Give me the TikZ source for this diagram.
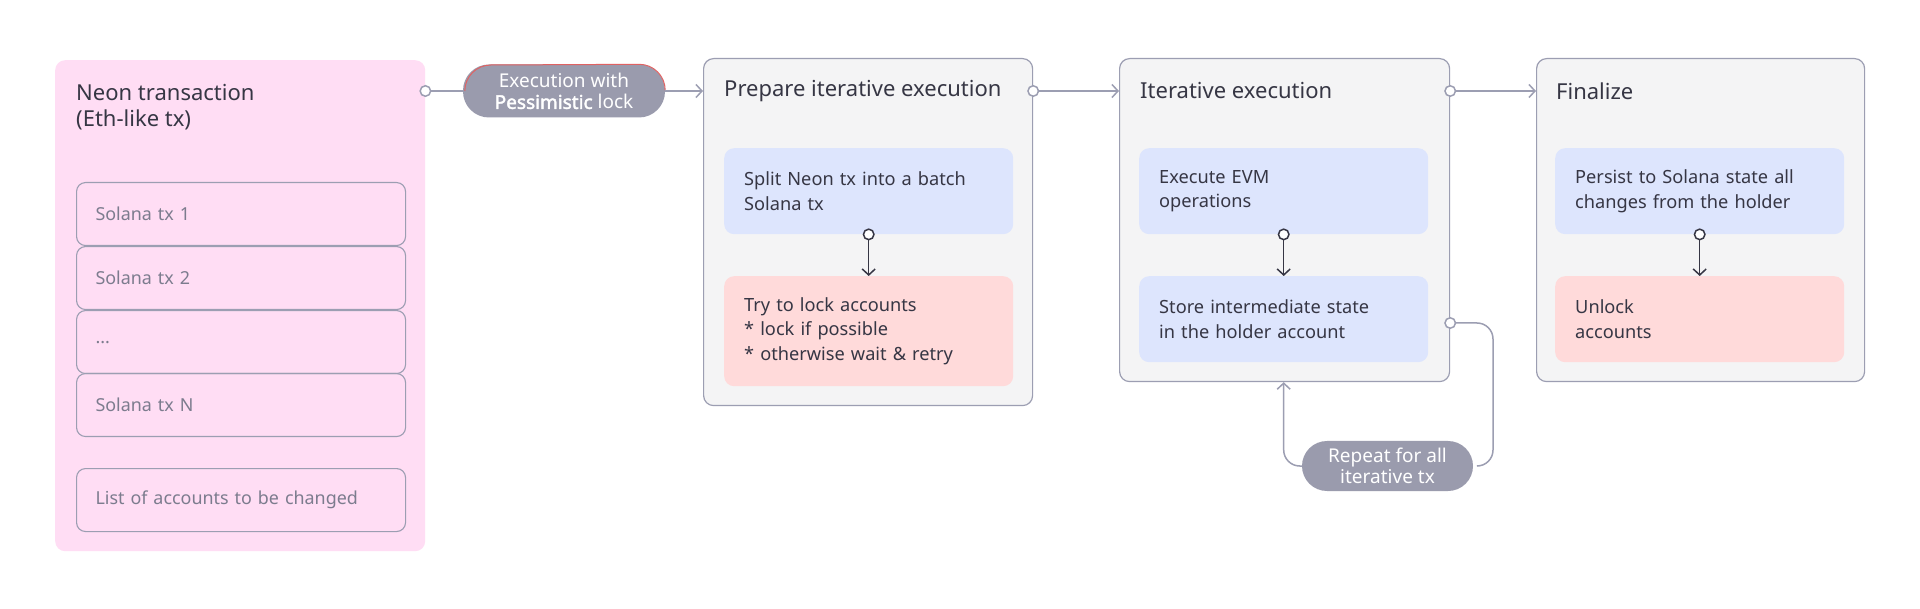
\documentclass[tikz,border=0pt]{standalone}
\usepackage{fontspec}
\setmainfont{Noto Sans}
\newfontfamily\pillbold{Noto Sans}[FakeBold=2.2]
\usetikzlibrary{arrows.meta,calc}
\definecolor{cpink}{HTML}{FFDDF4}
\definecolor{cgray}{HTML}{F4F4F5}
\definecolor{cborder}{HTML}{9C9EB2}
\definecolor{cblue}{HTML}{DDE5FD}
\definecolor{cred}{HTML}{FFDADA}
\definecolor{cpill}{HTML}{9A9BAD}
\definecolor{ctext}{HTML}{363644}
\definecolor{csub}{HTML}{7C7C8E}
\definecolor{credline}{HTML}{E06262}
\tikzset{
  cdot/.tip={Circle[fill=white, length=12pt, width=12pt, line width=1.5pt]},
  ctip/.tip={Straight Barb[length=6pt, width=13pt, line width=1.5pt]},
  container/.style={draw=cborder, fill=cgray, line width=1.2pt, rounded corners=10pt,
    anchor=north west, inner sep=0pt},
  pinkbox/.style={fill=cpink, rounded corners=10pt, anchor=north west, inner sep=0pt},
  subbox/.style={draw=cborder, line width=1.1pt, rounded corners=9pt, anchor=north west,
    minimum width=329pt, minimum height=63pt, inner xsep=19pt, text width=291pt, align=left,
    text=csub, font=\fontsize{17.9}{22}\selectfont},
  title/.style={anchor=west, inner sep=0pt, text=ctext, font=\fontsize{22}{26}\selectfont, align=left},
  inbox/.style={rounded corners=10pt, anchor=north west, minimum width=289pt, inner xsep=20pt,
    text width=249pt, align=left, text=ctext, font=\fontsize{18.2}{24.5}\selectfont},
  pill/.style={fill=cpill, rounded corners=25pt, text=white, align=center,
    font=\fontsize{19}{21.5}\selectfont, inner sep=0pt},
  conn/.style={draw=cborder, line width=1.5pt},
  inconn/.style={draw=ctext, line width=1.5pt},
}
\begin{document}
\begin{tikzpicture}[x=1pt,y=-1pt]
\useasboundingbox[fill=white] (0,0) rectangle (1920,609);

% Left pink panel
\node[pinkbox, minimum width=370pt, minimum height=491pt] (neon) at (55,60) {};
\node[title] (neont) at (76,107) {Neon transaction\\(Eth-like tx)};
\node[subbox] (s1) at (76,182) {Solana tx 1};
\node[subbox] (s2) at (76,246) {Solana tx 2};
\node[subbox] (s3) at (76,310) {...};
\node[subbox] (s4) at (76,373) {Solana tx N};
\node[subbox] (s5) at (76,468) {List of accounts to be changed};

% Containers
\node[container, minimum width=329pt, minimum height=347pt] (b2) at (703,58) {};
\node[title] (b2t) at (724,91) {Prepare iterative execution};
\node[inbox, fill=cblue, minimum height=86pt] (b2a) at (724,148) {Split Neon tx into a batch\\Solana tx};
\node[inbox, fill=cred, minimum height=110pt] (b2b) at (724,276) {Try to lock accounts\\{}* lock if possible\\{}* otherwise wait \& retry};

\node[container, minimum width=330pt, minimum height=323pt] (b3) at (1119,58) {};
\node[title] (b3t) at (1140,91) {Iterative execution};
\node[inbox, fill=cblue, minimum height=86pt] (b3a) at (1139,148) {Execute EVM\\operations};
\node[inbox, fill=cblue, minimum height=86pt] (b3b) at (1139,276) {Store intermediate state\\in the holder account};

\node[container, minimum width=328pt, minimum height=323pt] (b4) at (1536,58) {};
\node[title] (b4t) at (1556,91) {Finalize};
\node[inbox, fill=cblue, minimum height=86pt] (b4a) at (1555,148) {Persist to Solana state all\\changes from the holder};
\node[inbox, fill=cred, minimum height=86pt] (b4b) at (1555,276) {Unlock\\accounts};

% Pills
\node[pill, minimum width=202pt, minimum height=53pt, rounded corners=26pt] (p1) at (564,91) {Execution with\\{\pillbold Pessimistic} lock};
\draw[credline, line width=1pt] ([xshift=2pt]p1.west) arc[start angle=180, end angle=90, radius=26pt]
  -- ([xshift=-26pt]p1.north east) arc[start angle=90, end angle=0, radius=26pt];
\node[pill, minimum width=171pt, minimum height=50pt] (p2) at (1387.5,466) {Repeat for all\\iterative tx};

% Connectors
\coordinate (o1) at (neon.east |- p1.west);
\draw[conn, {cdot}-, shorten <=-6pt] (o1) -- (p1.west);
\draw[conn, -{ctip}] (p1.east) -- (p1.east -| b2.west);
\coordinate (o2) at (b2.east |- b2t);
\draw[conn, {cdot}-{ctip}, shorten <=-6pt] (o2) -- (o2 -| b3.west);
\coordinate (o3) at (b3.east |- b3t);
\draw[conn, {cdot}-{ctip}, shorten <=-6pt] (o3) -- (o3 -| b4.west);

\draw[inconn, {cdot}-{ctip}, shorten <=-6pt] (b2a.south) -- (b2b.north);
\draw[inconn, {cdot}-{ctip}, shorten <=-6pt] (b3a.south) -- (b3b.north);
\draw[inconn, {cdot}-{ctip}, shorten <=-6pt] (b4a.south) -- (b4b.north);

% Loop
\coordinate (o4) at (b3.east |- 0,323);
\coordinate (lr) at (1493,323);
\draw[conn, {cdot}-, shorten <=-6pt, rounded corners=16pt] (o4) -- (lr) |- ([xshift=4pt]p2.east);
\coordinate (ll) at (b3.south -| b3a.south);
\draw[conn, -{ctip}, rounded corners=16pt] (p2.west) -| (ll);
\end{tikzpicture}
\end{document}
